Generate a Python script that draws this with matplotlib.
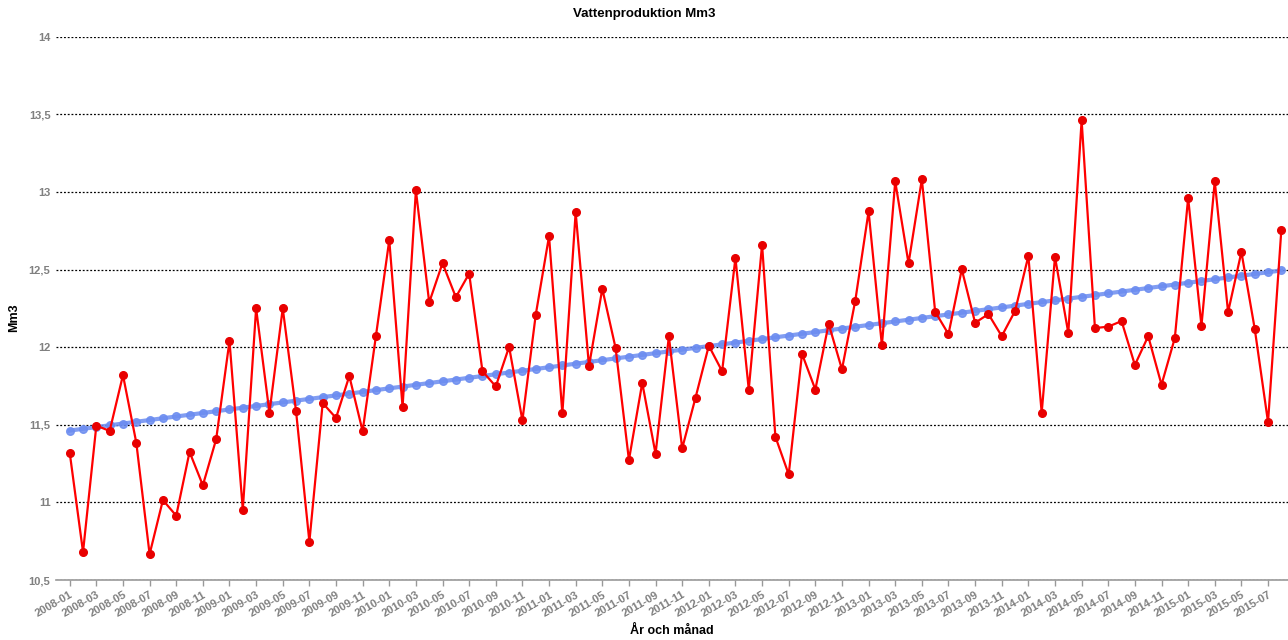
import numpy as np
import matplotlib
matplotlib.use("Agg")
import matplotlib.pyplot as plt

# monthly values, 2008-01 .. 2015-08
months = ["%d-%02d" % (y, m) for y in range(2008, 2016) for m in range(1, 13)][:92]
values = [
  11.32, 10.68, 11.495, 11.46, 11.82, 11.385, 10.666, 11.015, 10.914, 11.325, 11.11, 11.407,
  12.04, 10.953, 12.25, 11.578, 12.25, 11.587, 10.747, 11.64, 11.544, 11.814, 11.458, 12.073,
  12.69, 11.614, 13.01, 12.288, 12.541, 12.322, 12.474, 11.845, 11.747, 12.002, 11.528, 12.208,
  12.715, 11.573, 12.869, 11.878, 12.376, 11.994, 11.273, 11.770, 11.313, 12.069, 11.348, 11.674,
  12.009, 11.845, 12.575, 11.727, 12.661, 11.423, 11.180, 11.957, 11.727, 12.150, 11.857, 12.299,
  12.875, 12.011, 13.068, 12.540, 13.081, 12.228, 12.084, 12.501, 12.157, 12.213, 12.071, 12.233,
  12.587, 11.577, 12.581, 12.091, 13.461, 12.123, 12.132, 12.168, 11.885, 12.071, 11.758, 12.059,
  12.961, 12.138, 13.068, 12.226, 12.613, 12.119, 11.517, 12.755,
]
y_ticks = [10.5, 11, 11.5, 12, 12.5, 13, 13.5, 14]

plt.rcParams['font.family'] = ['Liberation Sans', 'DejaVu Sans']

x = np.arange(len(values))
slope, icpt = np.polyfit(x, values, 1)
trend = slope * x + icpt

fig = plt.figure(figsize=(12.88, 6.4), dpi=100)
ax = fig.add_axes([56 / 1288, 1 - 580 / 640, 1 - 56 / 1288, (580 - 36.7) / 640])

ax.plot(x, trend, color='#6b8cf0', lw=3, alpha=0.85, marker='o', ms=5.5, zorder=2)
ax.plot(x, values, color='#ff0000', lw=1.6, marker='o', ms=5.5,
        markerfacecolor='#e80000', markeredgecolor='#e80000', zorder=3)

ax.set_xlim(-1.03, 91.5)
ax.set_ylim(10.5, 14)
ax.set_yticks(y_ticks)
ax.set_yticklabels([("%g" % v).replace('.', ',') for v in y_ticks])
ax.set_xticks(x[::2])
ax.set_xticklabels(months[::2], rotation=30, ha='right', rotation_mode='anchor')

for s in ['top', 'right', 'left']:
  ax.spines[s].set_visible(False)
ax.spines['bottom'].set_color('#999999')
ax.spines['bottom'].set_linewidth(1.2)
ax.tick_params(axis='x', colors='#999999', length=4, width=1, labelsize=8, pad=3)
ax.tick_params(axis='y', length=0, labelsize=8, pad=4)
for lbl in ax.get_xticklabels() + ax.get_yticklabels():
  lbl.set_color('#808080')
  lbl.set_fontweight('bold')
ax.yaxis.grid(True, color='black', linestyle=(0, (1.5, 1.5)), linewidth=0.9)
ax.set_axisbelow(True)

fig.text(0.5, 1 - 14 / 640, 'Vattenproduktion Mm3', ha='center', va='center',
         fontsize=9.5, fontweight='bold')
fig.text(672 / 1288, 1 - 631 / 640, 'År och månad', ha='center', va='center',
         fontsize=9, fontweight='bold')
fig.text(14 / 1288, 1 - 318 / 640, 'Mm3', ha='center', va='center', rotation=90,
         fontsize=9, fontweight='bold')

fig.savefig('out.png', dpi=100)
